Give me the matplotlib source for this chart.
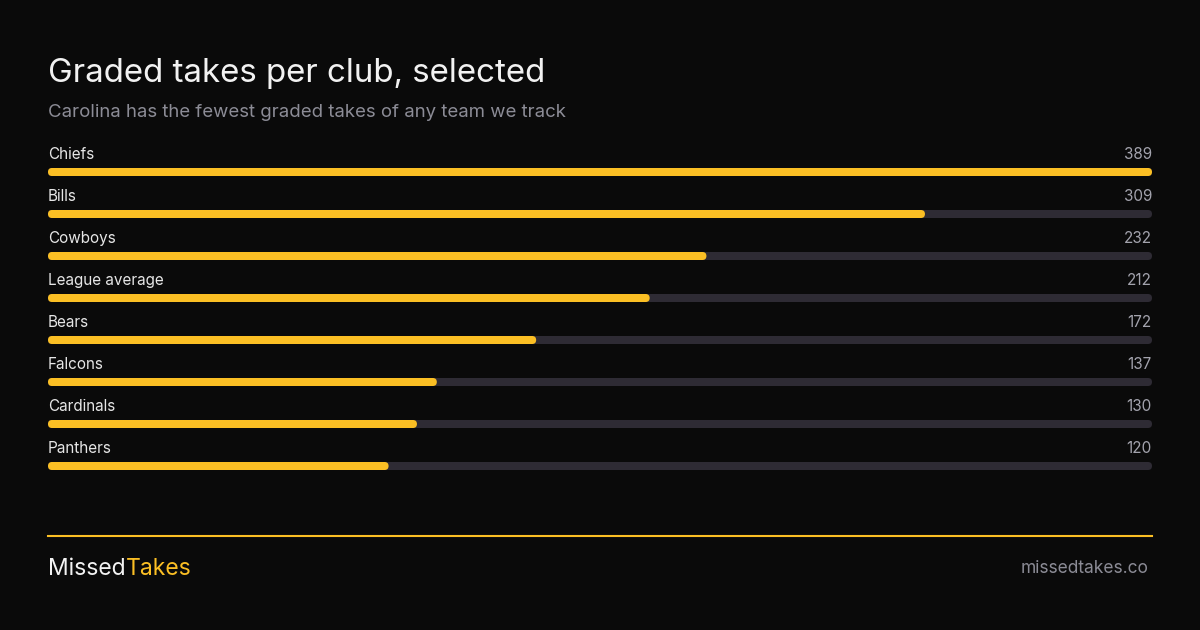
import matplotlib
matplotlib.use("Agg")
from matplotlib import pyplot as plt
from matplotlib.patches import FancyBboxPatch

# Chart data
clubs = ["Chiefs", "Bills", "Cowboys", "League average", "Bears",
         "Falcons", "Cardinals", "Panthers"]
graded_takes = [389, 309, 232, 212, 172, 137, 130, 120]

title = "Graded takes per club, selected"
subtitle = "Carolina has the fewest graded takes of any team we track"

BG = "#0a0a0a"
YELLOW = "#fbbf24"
TRACK = "#2e2b34"
WHITE = "#f2f2f2"
GREY = "#8c8c96"
VALUE_GREY = "#a3a3ad"

plt.rcParams["font.family"] = ["Inter", "DejaVu Sans"]

W, H = 1200, 630
fig = plt.figure(figsize=(W / 100, H / 100), dpi=100, facecolor=BG)

# bar area: 48px .. 1152px, one row every 42px, first bar centred at 172px
bar_px = 8
row_px = 42
left_px, width_px = 48, 1104
top_px = 172 - row_px / 2
ax = fig.add_axes([left_px / W,
                   1 - (top_px + row_px * len(clubs)) / H,
                   width_px / W,
                   row_px * len(clubs) / H])
ax.set_facecolor("none")
vmax = max(graded_takes)
ax.set_xlim(0, vmax)
ax.set_ylim(len(clubs) - 0.5, -0.5)
ax.axis("off")

x_per_px = vmax / width_px
y_per_px = 1 / row_px
bar_h = bar_px * y_per_px
aspect = y_per_px / x_per_px
radius = bar_px / 2 * x_per_px


def rounded_bar(x0, y, length, color):
    patch = FancyBboxPatch((x0, y - bar_h / 2), length, bar_h,
                           boxstyle=f"round,pad=0,rounding_size={radius}",
                           mutation_aspect=aspect, facecolor=color,
                           edgecolor="none", linewidth=0)
    ax.add_patch(patch)


for i, (club, val) in enumerate(zip(clubs, graded_takes)):
    rounded_bar(0, i, vmax, TRACK)
    rounded_bar(0, i, val, YELLOW)
    ax.annotate(club, xy=(0, i), xytext=(0, 13), textcoords="offset pixels",
                ha="left", va="baseline", fontsize=11, color="#e6e6e6")
    ax.annotate(str(val), xy=(vmax, i), xytext=(0, 13),
                textcoords="offset pixels", ha="right", va="baseline",
                fontsize=11, color=VALUE_GREY)

# Title and subtitle
fig.text(48 / W, 1 - 82 / H, title, fontsize=23.8, color=WHITE, ha="left", va="baseline")
fig.text(48 / W, 1 - 117 / H, subtitle, fontsize=13.4, color=GREY, ha="left", va="baseline")

# Footer
fig.add_artist(plt.Line2D([48 / W, 1152 / W], [1 - 536 / H, 1 - 536 / H],
                          color=YELLOW, linewidth=1.5))
brand = fig.text(48 / W, 1 - 575 / H, "Missed", fontsize=16.5, color=WHITE,
                 ha="left", va="baseline")
fig.canvas.draw()
bb = brand.get_window_extent()
fig.text(bb.x1 / W, 1 - 575 / H, "Takes", fontsize=16.5, color=YELLOW,
         ha="left", va="baseline")
fig.text(1148 / W, 1 - 573 / H, "missedtakes.co", fontsize=12.5, color=GREY,
         ha="right", va="baseline")

fig.savefig("out.png", dpi=100, facecolor=BG)
